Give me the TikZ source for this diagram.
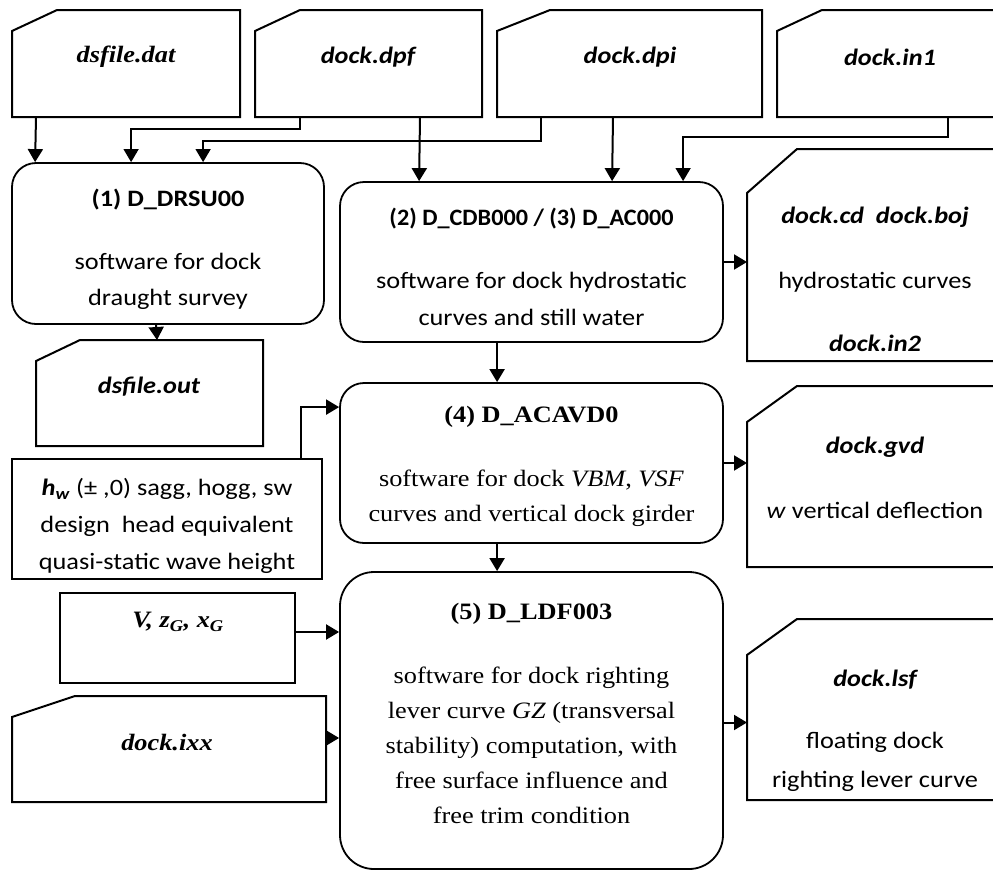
\documentclass[tikz,border=0pt]{standalone}
\usepackage{fontspec}
\setmainfont{Liberation Serif}[FakeStretch=1.12]
\setsansfont{Carlito}[FakeStretch=1.12]
\newfontfamily\sanstight{Carlito}[FakeStretch=1.03]
\usetikzlibrary{arrows.meta}

\begin{document}
\begin{tikzpicture}[x=1pt, y=-1pt,
  prog/.style={draw, line width=1.8pt, rounded corners=24pt},
  datbox/.style={draw, line width=1.8pt},
  card/.style={draw=none, inner sep=0pt, outer sep=0pt},
  cardline/.style={line width=2pt, line join=miter},
  sanstext/.style={font=\sffamily\fontsize{23.5}{36}\selectfont, align=center},
  serftext/.style={font=\rmfamily\fontsize{23.5}{35}\selectfont, align=center},
  sansfile/.style={font=\sffamily\bfseries\itshape\fontsize{23.5}{28}\selectfont},
  serffile/.style={font=\rmfamily\bfseries\itshape\fontsize{23.5}{28}\selectfont},
  flow/.style={line width=2pt, -{Triangle[width=15pt,length=13pt]}},
  thinflow/.style={line width=1.3pt, -{Triangle[width=15pt,length=13pt]}}
]
  \useasboundingbox (0,0) rectangle (993,871);
  \filldraw[fill=white, draw=none] (0,0) rectangle (993,871);

  % input cards
  \node[card, minimum width=228, minimum height=107] (dat) at (126,63.5) {};
  \node[card, minimum width=227, minimum height=107] (dpf) at (368.5,63.5) {};
  \node[card, minimum width=265, minimum height=107] (dpi) at (629.5,63.5) {};
  \node[card, minimum width=226, minimum height=107] (in1) at (890,63.5) {};
  \draw[cardline] ([yshift=-21pt]dat.north west) -- ([xshift=45pt]dat.north west) -- (dat.north east) -- (dat.south east) -- (dat.south west) -- cycle;
  \draw[cardline] ([yshift=-21pt]dpf.north west) -- ([xshift=45pt]dpf.north west) -- (dpf.north east) -- (dpf.south east) -- (dpf.south west) -- cycle;
  \draw[cardline] ([yshift=-21pt]dpi.north west) -- ([xshift=53pt]dpi.north west) -- (dpi.north east) -- (dpi.south east) -- (dpi.south west) -- cycle;
  \draw[cardline] ([yshift=-21pt]in1.north west) -- ([xshift=45pt]in1.north west) -- (in1.north east) -- (in1.south east) -- (in1.south west) -- cycle;
  \node[serffile] (datname) at (126,57) {dsfile.dat};
  \node[sansfile] (dpfname) at (368,57) {dock.dpf};
  \node[sansfile] (dpiname) at (630,57) {dock.dpi};
  \node[sansfile] (in1name) at (890,57) {dock.in1};

  % programs
  \node[prog, minimum width=312, minimum height=161] (p1) at (168,243.5) {};
  \node[prog, minimum width=383, minimum height=160] (p2) at (531.5,262) {};
  \node[prog, minimum width=383, minimum height=160] (p4) at (531.5,463) {};
  \node[prog, rounded corners=34pt, minimum width=383, minimum height=297] (p5) at (531.5,720.5) {};
  \node[sanstext] (p1text) at (168,249.5)
    {\textbf{(1) D\_DRSU00}\\[27pt]software for dock\\draught survey};
  \node[sanstext, font=\sffamily\fontsize{23.5}{37}\selectfont] (p2text) at (531.5,267)
    {{\sanstight\bfseries (2) D\_CDB000 / (3) D\_AC000}\\[26pt]software for dock hydrostatic\\curves and still water};
  \node[serftext] (p4text) at (531.5,466)
    {\textbf{(4) D\_ACAVD0}\\[29pt]software for dock \textit{VBM}, \textit{VSF}\\curves and vertical dock girder};
  \node[serftext] (p5text) at (531.5,713.5)
    {\textbf{(5) D\_LDF003}\\[29pt]software for dock righting\\lever curve \textit{GZ} (transversal\\stability) computation, with\\free surface influence and\\free trim condition};

  % output cards
  \node[card, minimum width=227, minimum height=106] (out) at (149.5,393) {};
  \node[card, minimum width=256, minimum height=212] (cd) at (875,255) {};
  \node[card, minimum width=256, minimum height=181] (gvd) at (875,476.5) {};
  \node[card, minimum width=256, minimum height=181] (lsf) at (875,709.5) {};
  \node[card, minimum width=314, minimum height=106] (ixx) at (169,749) {};
  \draw[cardline] ([yshift=-21pt]out.north west) -- ([xshift=44pt]out.north west) -- (out.north east) -- (out.south east) -- (out.south west) -- cycle;
  \draw[cardline] ([yshift=-44pt]cd.north west) -- ([xshift=50pt]cd.north west) -- (cd.north east) -- (cd.south east) -- (cd.south west) -- cycle;
  \draw[cardline] ([yshift=-36pt]gvd.north west) -- ([xshift=50pt]gvd.north west) -- (gvd.north east) -- (gvd.south east) -- (gvd.south west) -- cycle;
  \draw[cardline] ([yshift=-36pt]lsf.north west) -- ([xshift=50pt]lsf.north west) -- (lsf.north east) -- (lsf.south east) -- (lsf.south west) -- cycle;
  \draw[cardline] ([yshift=-21pt]ixx.north west) -- ([xshift=63pt]ixx.north west) -- (ixx.north east) -- (ixx.south east) -- (ixx.south west) -- cycle;
  \node[sansfile] (outname) at (149,387) {dsfile.out};
  \node[sansfile] (cdname) at (875,217) {dock.cd\ \ dock.boj};
  \node[sanstext] (cdnote) at (875,282) {hydrostatic curves};
  \node[sansfile] (in2name) at (875,343) {dock.in2};
  \node[sansfile] (gvdname) at (875,447) {dock.gvd};
  \node[sanstext] (gvdnote) at (875,510) {\textit{w} vertical deflection};
  \node[sansfile] (lsfname) at (875,680) {dock.lsf};
  \node[sanstext, font=\sffamily\fontsize{23.5}{39}\selectfont] (lsfnote) at (875,762) {floating dock\\righting lever curve};
  \node[serffile] (ixxname) at (167,742) {dock.ixx};

  % plain data boxes
  \node[datbox, minimum width=310, minimum height=120] (hw) at (167,519) {};
  \node[sanstext, font=\sffamily\fontsize{23.5}{37}\selectfont] (hwtext) at (167,526)
    {\textbf{\textit{h}}\textsubscript{\textbf{\textit{w}}} (\textpm\ ,0) sagg, hogg, sw\\design\ \ head equivalent\\quasi-static wave height};
  \node[datbox, minimum width=235, minimum height=90] (vzx) at (177.5,638) {};
  \node[serffile] (vzxname) at (178,622) {V, z\textsubscript{G}, x\textsubscript{G}};

  % connectors
  \draw[flow] ([xshift=24pt]dat.south west) -- ([xshift=24pt]p1.north west);
  \draw[thinflow] ([xshift=45pt]dpf.south west) -- ++(0,12) -| ([xshift=120pt]p1.north west);
  \draw[thinflow] ([xshift=44pt]dpi.south west) -- ++(0,24) -| ([xshift=192pt]p1.north west);
  \draw[flow] ([xshift=165pt]dpf.south west) -- ([xshift=80pt]p2.north west);
  \draw[flow] ([xshift=116pt]dpi.south west) -- ([xshift=273pt]p2.north west);
  \draw[thinflow] ([xshift=171pt]in1.south west) -- ++(0,20) -| ([xshift=344pt]p2.north west);
  \draw[flow] ([xshift=145pt]p1.south west) -- ([xshift=121pt]out.north west);
  \draw[flow] (p2.east) -- (p2.east -| cd.west);
  \draw[flow] ([xshift=158pt]p2.south west) -- ([xshift=158pt]p4.north west);
  \draw[flow] ([xshift=-22pt]hw.north east) |- ([yshift=-25pt]p4.north west);
  \draw[flow] (p4.east) -- (p4.east -| gvd.west);
  \draw[flow] ([xshift=158pt]p4.south west) -- ([xshift=158pt]p5.north west);
  \draw[flow] ([yshift=6pt]vzx.east) -- ([yshift=6pt]vzx.east -| p5.west);
  \draw[flow] ([yshift=11pt]ixx.east) -- ([yshift=11pt]ixx.east -| p5.west);
  \draw[flow] ([yshift=-2pt]p5.east) -- ([yshift=-2pt]p5.east -| lsf.west);
\end{tikzpicture}
\end{document}
